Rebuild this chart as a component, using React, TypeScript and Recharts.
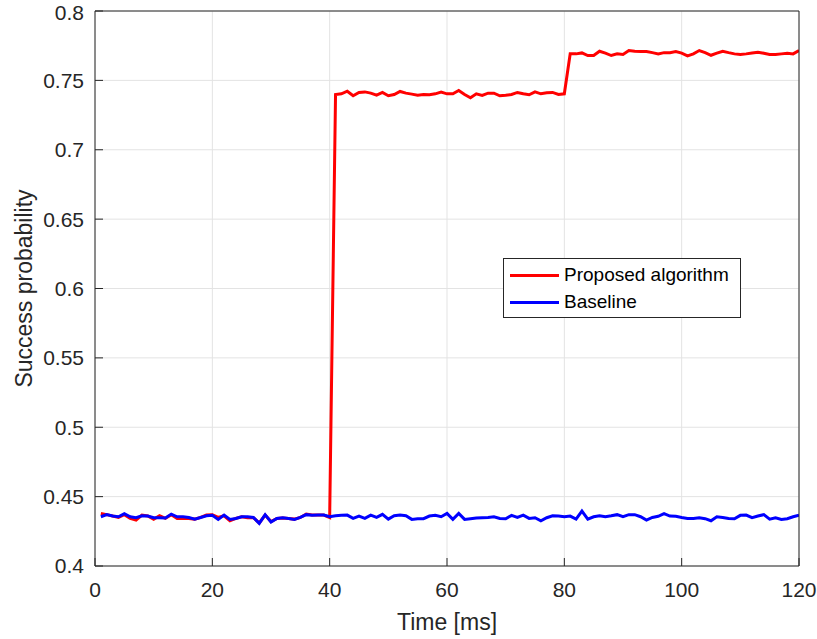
import React from 'react';
import { LineChart, Line, XAxis, YAxis, CartesianGrid, Legend } from 'recharts';

const TIME: number[] = Array.from({ length: 120 }, (_, i) => i + 1);

const PROPOSED: number[] = [
  0.4379, 0.4370, 0.4360, 0.4350, 0.4370, 0.4343, 0.4331, 0.4367, 0.4360, 0.4336,
  0.4362, 0.4343, 0.4370, 0.4343, 0.4343, 0.4343, 0.4338, 0.4350, 0.4367, 0.4370,
  0.4350, 0.4362, 0.4326, 0.4343, 0.4355, 0.4348, 0.4348, 0.4310, 0.4367, 0.4320,
  0.4343, 0.4346, 0.4343, 0.4338, 0.4350, 0.4374, 0.4367, 0.4367, 0.4367, 0.4350,
  0.7398, 0.7403, 0.7422, 0.7389, 0.7413, 0.7417, 0.7408, 0.7393, 0.7413, 0.7389,
  0.7398, 0.7420, 0.7408, 0.7401, 0.7393, 0.7398, 0.7396, 0.7403, 0.7415, 0.7403,
  0.7403, 0.7427, 0.7398, 0.7374, 0.7403, 0.7391, 0.7408, 0.7408, 0.7389, 0.7393,
  0.7398, 0.7413, 0.7403, 0.7396, 0.7417, 0.7403, 0.7410, 0.7413, 0.7398, 0.7403,
  0.7691, 0.7691, 0.7698, 0.7679, 0.7679, 0.7710, 0.7696, 0.7679, 0.7691, 0.7686,
  0.7715, 0.7710, 0.7708, 0.7708, 0.7700, 0.7691, 0.7700, 0.7700, 0.7708, 0.7696,
  0.7677, 0.7691, 0.7715, 0.7700, 0.7681, 0.7696, 0.7710, 0.7700, 0.7691, 0.7686,
  0.7691, 0.7698, 0.7703, 0.7696, 0.7686, 0.7686, 0.7691, 0.7696, 0.7691, 0.7715,
];

const BASELINE: number[] = [
  0.4355, 0.4370, 0.4360, 0.4355, 0.4377, 0.4355, 0.4348, 0.4362, 0.4360, 0.4348,
  0.4348, 0.4346, 0.4374, 0.4355, 0.4355, 0.4350, 0.4338, 0.4350, 0.4362, 0.4365,
  0.4336, 0.4367, 0.4336, 0.4343, 0.4355, 0.4355, 0.4350, 0.4307, 0.4370, 0.4317,
  0.4343, 0.4348, 0.4343, 0.4336, 0.4350, 0.4370, 0.4365, 0.4367, 0.4367, 0.4355,
  0.4362, 0.4365, 0.4367, 0.4343, 0.4360, 0.4343, 0.4367, 0.4350, 0.4372, 0.4338,
  0.4362, 0.4367, 0.4362, 0.4336, 0.4341, 0.4341, 0.4360, 0.4365, 0.4355, 0.4379,
  0.4336, 0.4379, 0.4336, 0.4341, 0.4346, 0.4348, 0.4350, 0.4355, 0.4343, 0.4341,
  0.4365, 0.4350, 0.4367, 0.4343, 0.4348, 0.4326, 0.4348, 0.4362, 0.4360, 0.4355,
  0.4360, 0.4338, 0.4396, 0.4338, 0.4355, 0.4362, 0.4355, 0.4362, 0.4370, 0.4355,
  0.4370, 0.4370, 0.4355, 0.4331, 0.4350, 0.4358, 0.4377, 0.4360, 0.4358, 0.4350,
  0.4343, 0.4343, 0.4348, 0.4341, 0.4326, 0.4355, 0.4350, 0.4343, 0.4341, 0.4365,
  0.4367, 0.4348, 0.4360, 0.4370, 0.4338, 0.4348, 0.4336, 0.4341, 0.4355, 0.4367,
];

const X_TICKS: number[] = [0, 20, 40, 60, 80, 100, 120];
const Y_TICKS: number[] = [0.4, 0.45, 0.5, 0.55, 0.6, 0.65, 0.7, 0.75, 0.8];

const SERIES = [
  { key: 'proposed', name: 'Proposed algorithm', color: '#FF0000' },
  { key: 'baseline', name: 'Baseline', color: '#0000FF' },
];

const data = TIME.map((t, i) => ({ t, proposed: PROPOSED[i], baseline: BASELINE[i] }));

const FONT = '"Liberation Sans", Arial, Helvetica, sans-serif';
const AXIS_COLOR = '#262626';

const YLabel = (props: any) => {
  const vb = props.viewBox || { x: 0, y: 11, width: 95, height: 555 };
  const cx = vb.x + 32;
  const cy = vb.y + vb.height / 2;
  return (
    <text
      x={cx}
      y={cy}
      transform={`rotate(-90, ${cx}, ${cy})`}
      textAnchor="middle"
      fill={AXIS_COLOR}
      fontSize={23}
      fontFamily={FONT}
    >
      Success probability
    </text>
  );
};

const XLabel = (props: any) => {
  const vb = props.viewBox || { x: 95, y: 566, width: 704, height: 73 };
  const cx = vb.x + vb.width / 2;
  const cy = vb.y + 64;
  return (
    <text x={cx} y={cy} textAnchor="middle" fill={AXIS_COLOR} fontSize={23} fontFamily={FONT}>
      Time [ms]
    </text>
  );
};

const renderLegend = () => (
  <div
    style={{
      width: 238,
      height: 60,
      border: `1px solid ${AXIS_COLOR}`,
      background: '#fff',
      boxSizing: 'border-box',
      fontFamily: FONT,
      fontSize: 19,
      color: '#000',
      position: 'relative',
    }}
  >
    {SERIES.map((s, i) => (
      <div
        key={s.key}
        style={{
          position: 'absolute',
          left: 6,
          top: 5 + i * 27,
          height: 22,
          display: 'flex',
          alignItems: 'center',
          whiteSpace: 'nowrap',
        }}
      >
        <div style={{ width: 49, height: 3, background: s.color }} />
        <span style={{ marginLeft: 5, lineHeight: '22px' }}>{s.name}</span>
      </div>
    ))}
  </div>
);

export default function App() {
  const tickStyle = { fill: AXIS_COLOR, fontSize: 21, fontFamily: FONT };
  return (
    <div style={{ position: 'absolute', left: 0, top: 0, background: '#fff' }}>
      <LineChart
        width={817}
        height={639}
        data={data}
        margin={{ top: 0, right: 0, bottom: 0, left: 0 }}
      >
        <CartesianGrid
          xAxisId="bottom"
          yAxisId="left"
          stroke="#e3e3e3"
          strokeWidth={1}
        />
        <XAxis
          xAxisId="bottom"
          dataKey="t"
          type="number"
          domain={[0, 120]}
          ticks={X_TICKS}
          allowDataOverflow
          height={73}
          orientation="bottom"
          stroke={AXIS_COLOR}
          tickSize={-8}
          tickMargin={24}
          tick={tickStyle}
          label={<XLabel />}
        />
        <XAxis
          xAxisId="top"
          dataKey="t"
          type="number"
          domain={[0, 120]}
          ticks={X_TICKS}
          allowDataOverflow
          height={11}
          orientation="top"
          stroke={AXIS_COLOR}
          tickSize={-8}
          tick={false}
        />
        <YAxis
          yAxisId="left"
          type="number"
          domain={[0.4, 0.8]}
          ticks={Y_TICKS}
          allowDataOverflow
          width={95}
          orientation="left"
          stroke={AXIS_COLOR}
          tickSize={-8}
          tickMargin={19}
          tick={tickStyle}
          label={<YLabel />}
        />
        <YAxis
          yAxisId="right"
          type="number"
          domain={[0.4, 0.8]}
          ticks={Y_TICKS}
          allowDataOverflow
          width={18}
          orientation="right"
          stroke={AXIS_COLOR}
          tickSize={-8}
          tick={false}
        />
        <Legend
          layout="horizontal"
          verticalAlign="middle"
          align="center"
          content={renderLegend}
          wrapperStyle={{ position: 'absolute', left: 503, top: 258, width: 238, height: 60 }}
        />
        <Line
          xAxisId="bottom"
          yAxisId="left"
          type="linear"
          dataKey="proposed"
          name="Proposed algorithm"
          stroke="#FF0000"
          strokeWidth={3}
          dot={false}
          isAnimationActive={false}
        />
        <Line
          xAxisId="bottom"
          yAxisId="left"
          type="linear"
          dataKey="baseline"
          name="Baseline"
          stroke="#0000FF"
          strokeWidth={3}
          dot={false}
          isAnimationActive={false}
        />
      </LineChart>
    </div>
  );
}
